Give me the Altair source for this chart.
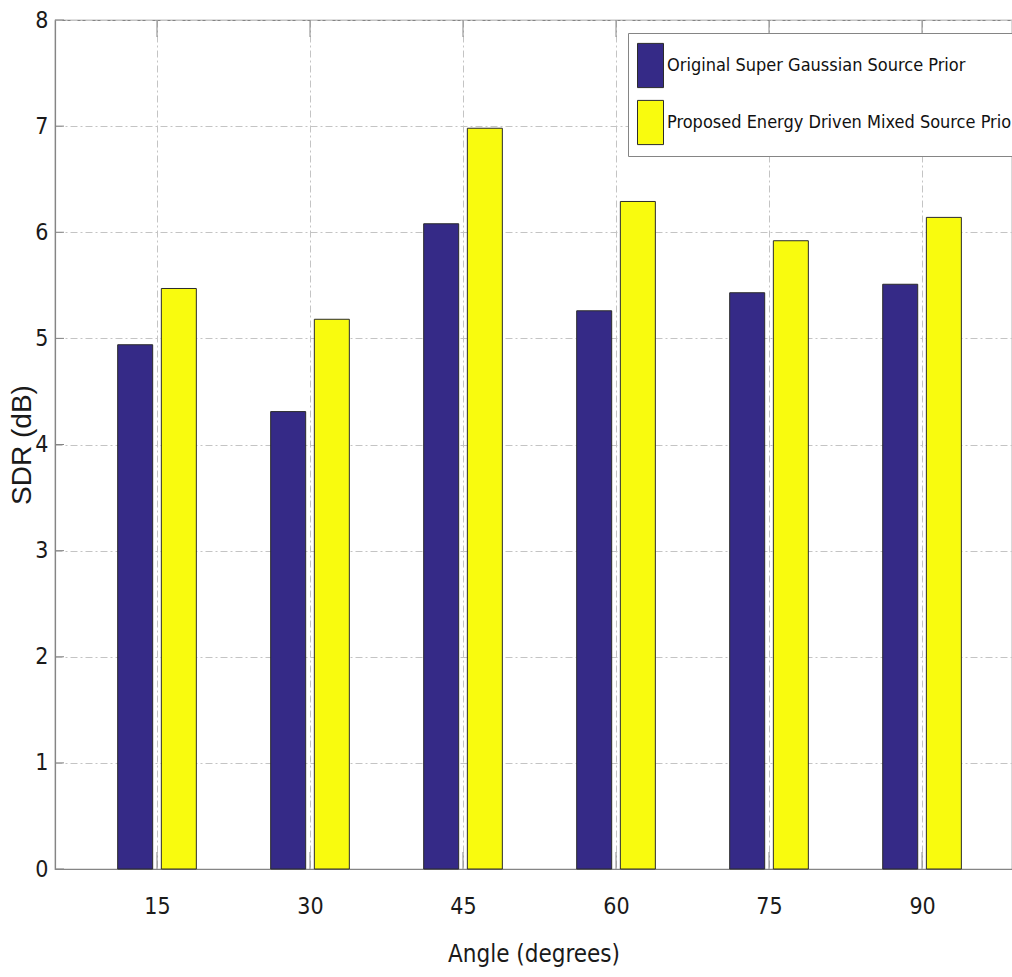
import altair as alt
import pandas as pd

# SDR per source angle for the two source priors
angles = [15, 30, 45, 60, 75, 90]
original_sdr = [4.94, 4.31, 6.08, 5.26, 5.43, 5.51]
proposed_sdr = [5.47, 5.18, 6.98, 6.29, 5.92, 6.14]
series_names = [
    "Original Super Gaussian Source Prior",
    "Proposed Energy Driven Mixed Source Prior",
]
series_colors = ["#352A87", "#F9FB0E"]
y_ticks = [0, 1, 2, 3, 4, 5, 6, 7, 8]

rows = []
for a, o, p in zip(angles, original_sdr, proposed_sdr):
    rows.append({"angle": a, "series": series_names[0], "sdr": o, "slot": -1})
    rows.append({"angle": a, "series": series_names[1], "sdr": p, "slot": 1})
bars_df = pd.DataFrame(rows)

FONT = "Liberation Sans Narrow, DejaVu Sans Condensed, Arial Narrow, sans-serif"
W, H = 957, 849
AXIS_GRAY = "#858585"

x_scale = alt.Scale(domain=[5, 98.82], nice=False, zero=False, padding=0)
y_scale = alt.Scale(domain=[0, 8], nice=False)

bars = (
    alt.Chart(bars_df)
    .transform_calculate(xpos="datum.angle + datum.slot * 2.14")
    .mark_bar(size=35, stroke="#2b2b2b", strokeWidth=1)
    .encode(
        x=alt.X(
            "xpos:Q",
            scale=x_scale,
            axis=alt.Axis(
                values=angles,
                format="d",
                title="Angle (degrees)",
                grid=True,
                ticks=False,
                labelPadding=26,
                titlePadding=24,
            ),
        ),
        y=alt.Y(
            "sdr:Q",
            scale=y_scale,
            axis=alt.Axis(
                values=y_ticks,
                format="d",
                title="SDR (dB)",
                grid=True,
                ticks=False,
                labelPadding=7,
                titleX=-33,
                titleY=H / 2,
                titleAngle=270,
                titleAlign="center",
                titleBaseline="middle",
            ),
        ),
        color=alt.Color(
            "series:N",
            scale=alt.Scale(domain=series_names, range=series_colors),
            legend=alt.Legend(
                title=" ",
                titleFontSize=1,
                titlePadding=9,
                orient="none",
                legendX=573,
                legendY=13,
                symbolType="M-1,-1.7H1V1.7H-1Z",
                symbolSize=676,
                symbolStrokeColor="#2b2b2b",
                symbolStrokeWidth=1,
                symbolOpacity=1,
                labelFont=FONT,
                labelFontSize=18,
                labelColor="#111111",
                labelLimit=600,
                labelOffset=3,
                rowPadding=8,
                padding=9,
                strokeColor=AXIS_GRAY,
                fillColor="white",
            ),
        ),
    )
)

# inward tick marks on the left edge
y_tick_df = pd.DataFrame({"v": y_ticks})
left_ticks = (
    alt.Chart(y_tick_df)
    .mark_rule(color=AXIS_GRAY, strokeWidth=1)
    .encode(y=alt.Y("v:Q", scale=y_scale), x=alt.value(0), x2=alt.value(9))
)

# inward tick marks on the bottom and top edges
x_tick_df = pd.DataFrame({"v": angles})
bottom_ticks = (
    alt.Chart(x_tick_df)
    .mark_rule(color=AXIS_GRAY, strokeWidth=1)
    .encode(x=alt.X("v:Q", scale=x_scale), y=alt.value(H), y2=alt.value(H - 17))
)
top_ticks = (
    alt.Chart(x_tick_df)
    .mark_rule(color=AXIS_GRAY, strokeWidth=1)
    .encode(x=alt.X("v:Q", scale=x_scale), y=alt.value(0), y2=alt.value(17))
)

chart = (
    alt.layer(bars, left_ticks, bottom_ticks, top_ticks)
    .properties(
        width=W,
        height=H,
        autosize=alt.AutoSizeParams(type="none"),
        padding={"left": 55, "top": 20, "right": 0, "bottom": 108},
        background="white",
    )
    .configure_view(stroke=AXIS_GRAY, strokeWidth=1.2)
    .configure_axis(
        domainColor=AXIS_GRAY,
        domainWidth=1.2,
        gridColor="#c4c4c4",
        gridDash=[7, 3, 2, 3],
        gridWidth=1,
        labelFont=FONT,
        labelFontSize=23,
        labelColor="#1a1a1a",
        titleFont=FONT,
        titleFontSize=24,
        titleFontWeight="normal",
        titleColor="#1a1a1a",
    )
    .configure_axisY(titleFont="Liberation Sans, Arial, sans-serif", titleFontSize=28)
)

chart.save("out.html", embed_options={"renderer": "svg", "actions": False})
